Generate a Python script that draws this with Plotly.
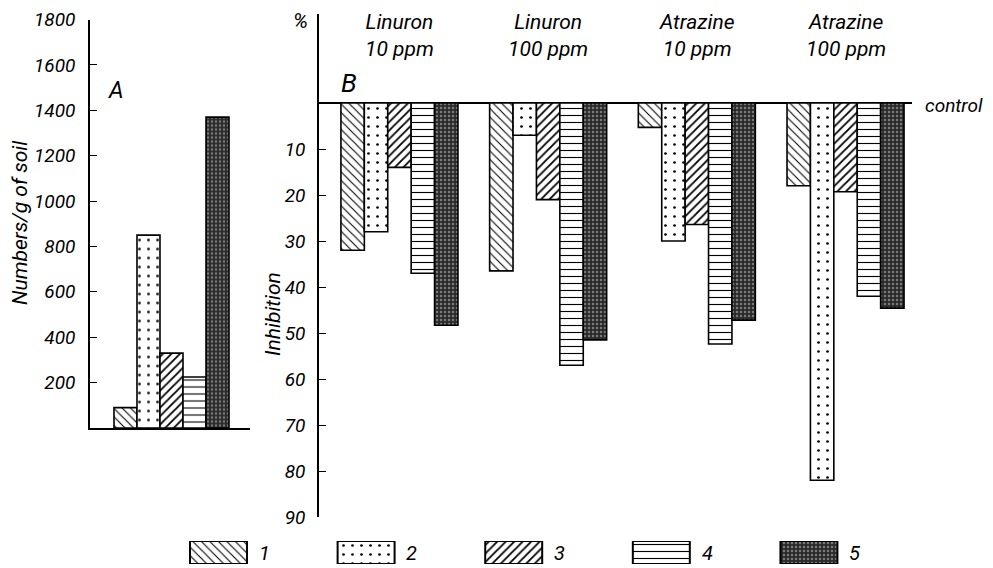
import plotly.graph_objects as go

# The page body keeps the browser's 8px margin, so the figure is drawn
# smaller and every target pixel position is shifted by 8px.
W, H = 977, 560
OFF = 8

# ---------------- data ----------------
series_names = ["1", "2", "3", "4", "5"]
panel_a_values = [90, 850, 330, 225, 1370]          # numbers / g of soil
panel_a_ticks = [200, 400, 600, 800, 1000, 1200, 1400, 1600, 1800]

groups_line1 = ["Linuron", "Linuron", "Atrazine", "Atrazine"]
groups_line2 = ["10 ppm", "100 ppm", "10 ppm", "100 ppm"]
inhib_s1 = [32, 36.5, 5.3, 18]
inhib_s2 = [28, 7, 30, 82]
inhib_s3 = [14, 21, 26.4, 19.3]
inhib_s4 = [37, 57, 52.4, 42]
inhib_s5 = [48.3, 51.5, 47.2, 44.6]
inhib_ticks = [10, 20, 30, 40, 50, 60, 70, 80, 90]

# ---------------- styles ----------------
FONT = "Roboto, Liberation Sans, DejaVu Sans, sans-serif"
styles = [
    dict(shape="\\", fgcolor="black", bgcolor="white", size=6, solidity=0.18),
    dict(shape=".", fgcolor="black", bgcolor="white", size=9, solidity=0.07),
    dict(shape="/", fgcolor="black", bgcolor="white", size=6, solidity=0.3),
    dict(shape="-", fgcolor="black", bgcolor="white", size=7, solidity=0.16),
    dict(shape=".", fgcolor="#7a7a7a", bgcolor="#2a2a2a", size=4, solidity=0.3),
]
inhib = [inhib_s1, inhib_s2, inhib_s3, inhib_s4, inhib_s5]


def fx(px):
    return min(1.0, max(0.0, (px - OFF) / W))


def fy(py):
    return min(1.0, max(0.0, 1 - (py - OFF) / H))


def arr_pattern(keys):
    return {k: [s[k] for s in styles] for k in keys}


line = dict(color="black", width=1.6)
fig = go.Figure()

# Panel A
pa = arr_pattern(["shape", "fgcolor", "bgcolor", "size", "solidity"])
fig.add_trace(go.Bar(
    x=list(range(len(panel_a_values))), y=panel_a_values, width=1,
    xaxis="x", yaxis="y", showlegend=False,
    marker=dict(color="white", line=line, pattern=dict(fillmode="replace", **pa)),
))

# Panel B
for i, vals in enumerate(inhib):
    fig.add_trace(go.Bar(
        x=list(range(len(vals))), y=vals, name=series_names[i],
        xaxis="x2", yaxis="y2", showlegend=False,
        marker=dict(color=styles[i]["bgcolor"], line=line,
                    pattern=dict(fillmode="replace", **styles[i])),
    ))

# Legend strip
fig.add_trace(go.Bar(
    x=list(range(len(series_names))), y=[1] * len(series_names), width=0.386,
    xaxis="x3", yaxis="y3", showlegend=False,
    marker=dict(color="white", line=dict(color="black", width=2),
                pattern=dict(fillmode="replace", **pa)),
))

tickfont = dict(family=FONT, size=19, color="black", style="italic")

fig.update_layout(
    width=W, height=H, margin=dict(l=0, r=0, t=0, b=0, autoexpand=False),
    paper_bgcolor="white", plot_bgcolor="white",
    barmode="group", bargap=0.213, bargroupgap=0,
    xaxis=dict(domain=[fx(90), fx(250)], range=[-1.543, 5.413], anchor="y",
               showline=True, linecolor="black", linewidth=1.6, automargin=False,
               ticks="", showticklabels=False, showgrid=False, zeroline=False),
    yaxis=dict(domain=[fy(428), fy(19.5)], range=[0, 1800], anchor="x",
               tickvals=panel_a_ticks, ticks="inside", ticklen=7, tickwidth=1.4,
               tickcolor="black", showline=True, linecolor="black", linewidth=1.6,
               showgrid=False, zeroline=False, tickfont=tickfont, ticklabelstandoff=9,
               ticklabeloverflow="allow", automargin=False),
    xaxis2=dict(domain=[fx(319), fx(912)], range=[-0.541, 3.447], anchor="y2",
                showline=False, ticks="", showticklabels=False, showgrid=False,
                zeroline=False, automargin=False),
    yaxis2=dict(domain=[fy(517), fy(14)], range=[90, -19.35], anchor="x2",
                tickvals=inhib_ticks, ticks="inside", ticklen=7, tickwidth=1.4,
                tickcolor="black", showline=True, linecolor="black", linewidth=1.6,
                showgrid=False, zeroline=True, zerolinecolor="black", zerolinewidth=1.6,
                tickfont=tickfont, ticklabelstandoff=8, ticklabeloverflow="allow",
                automargin=False),
    xaxis3=dict(domain=[fx(150), fx(900)], range=[-0.464, 4.617], anchor="y3",
                visible=False, automargin=False),
    yaxis3=dict(domain=[fy(564), fy(541)], range=[0, 1], anchor="x3", visible=False,
                automargin=False),
)

ann = []


def txt(x, y, text, size, xref="paper", yref="paper", xanchor="center",
        yanchor="middle", angle=0):
    ann.append(dict(x=x, y=y, xref=xref, yref=yref, text=text, showarrow=False,
                    xanchor=xanchor, yanchor=yanchor, textangle=angle,
                    font=dict(family=FONT, size=size, color="black", style="italic")))


for g in range(len(groups_line1)):
    txt(g, fy(35), groups_line1[g] + "<br>" + groups_line2[g], 21, xref="x2")

txt(fx(20), fy(223), "Numbers/g of soil", 21, angle=-90)
txt(fx(273), fy(314), "Inhibition", 21, angle=-90)
txt(fx(116), fy(90), "A", 23)
txt(fx(349), fy(83), "B", 26)
txt(fx(300), fy(21), "%", 21)
txt(fx(923), fy(105), "control", 19, xanchor="left")
for k, nm in enumerate(series_names):
    txt(k + 0.26, 0.5, nm, 20, xref="x3", yref="y3", xanchor="left")

fig.update_layout(annotations=ann)
fig.write_html("out.html")
